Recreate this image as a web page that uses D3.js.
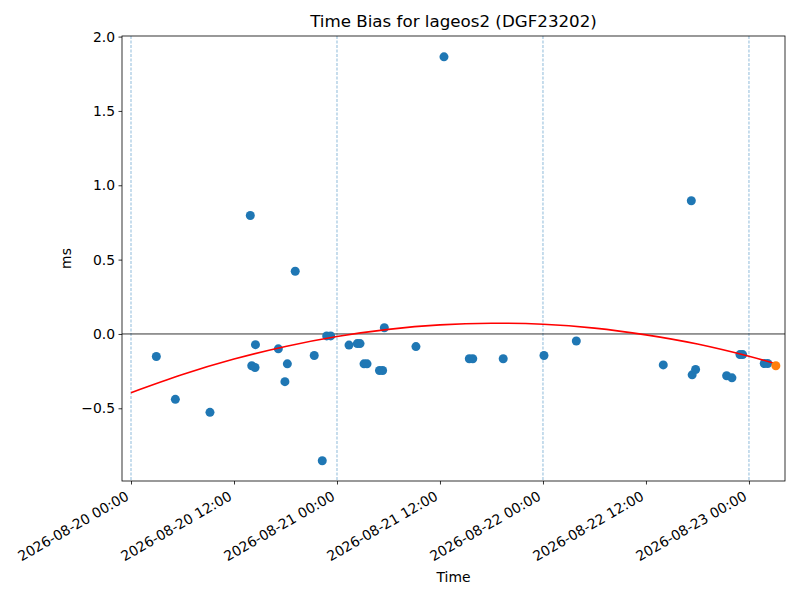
<!DOCTYPE html>
<html>
<head>
<meta charset="utf-8">
<script src="https://cdn.jsdelivr.net/npm/d3@7"></script>
<style>
    body { margin: 0; background: #fff; }
    text { font-family: "DejaVu Sans", sans-serif; fill: #000; }
</style>
</head>
<body>
<div id="chart"></div>
<script>

// measured time bias points (ms)
const obsTimes = [
    "2026-08-20 02:57", "2026-08-20 05:10", "2026-08-20 09:12", "2026-08-20 13:54",
    "2026-08-20 14:04", "2026-08-20 14:27", "2026-08-20 14:30", "2026-08-20 17:10",
    "2026-08-20 17:56", "2026-08-20 18:13", "2026-08-20 19:08", "2026-08-20 21:21",
    "2026-08-20 22:17", "2026-08-20 22:48", "2026-08-20 23:16", "2026-08-21 01:24",
    "2026-08-21 02:22", "2026-08-21 02:41", "2026-08-21 03:09", "2026-08-21 03:30",
    "2026-08-21 04:57", "2026-08-21 05:19", "2026-08-21 05:31", "2026-08-21 09:12",
    "2026-08-21 12:28", "2026-08-21 15:25", "2026-08-21 15:49", "2026-08-21 19:22",
    "2026-08-22 00:07", "2026-08-22 03:53", "2026-08-22 14:01", "2026-08-22 17:17",
    "2026-08-22 17:23", "2026-08-22 17:47", "2026-08-22 21:24", "2026-08-22 22:01",
    "2026-08-22 22:57", "2026-08-22 23:16", "2026-08-23 01:47", "2026-08-23 02:11"
];
const obsBias = [
    -0.152, -0.440, -0.527, 0.797,
    -0.214, -0.226, -0.072, -0.100,
    -0.321, -0.201, 0.422, -0.145,
    -0.853, -0.013, -0.013, -0.075,
    -0.065, -0.065, -0.201, -0.201,
    -0.246, -0.246, 0.042, -0.085,
    1.864, -0.167, -0.167, -0.167,
    -0.145, -0.047, -0.208, 0.896,
    -0.275, -0.239, -0.281, -0.295,
    -0.139, -0.139, -0.199, -0.199
];

// latest point (orange)
const lastTime = "2026-08-23 03:08";
const lastBias = -0.214;

// fitted trend
const fitTimes = [
    "2026-08-20 00:00", "2026-08-20 06:00", "2026-08-20 12:00", "2026-08-20 18:00",
    "2026-08-21 00:00", "2026-08-21 06:00", "2026-08-21 12:00", "2026-08-21 18:00",
    "2026-08-22 00:00", "2026-08-22 06:00", "2026-08-22 12:00", "2026-08-22 18:00",
    "2026-08-23 00:00", "2026-08-23 03:08"
];
const fitBias = [
    -0.395, -0.273, -0.169, -0.084,
    -0.017, 0.031, 0.061, 0.072,
    0.065, 0.039, -0.006, -0.068,
    -0.150, -0.200
];

const dayLines = ["2026-08-20 00:00", "2026-08-21 00:00", "2026-08-22 00:00", "2026-08-23 00:00"];
const yTicks = [-0.5, 0.0, 0.5, 1.0, 1.5, 2.0];

const parseTime = d3.timeParse("%Y-%m-%d %H:%M");

let margin = {top: 36, right: 15, bottom: 119, left: 122};
let width = 800 - margin.left - margin.right;
let height = 600 - margin.top - margin.bottom;

let svg = d3.select("#chart").append("svg")
    .attr("width", 800)
    .attr("height", 600);

let g = svg.append("g")
    .attr("transform", `translate(${margin.left}, ${margin.top})`);

let x = d3.scaleTime()
    .domain([parseTime("2026-08-19 22:57"), parseTime("2026-08-23 04:12")])
    .range([0, width]);

let y = d3.scaleLinear()
    .domain([-0.989, 2.004])
    .range([height, 0]);

// day boundary lines
g.selectAll(".day-line")
    .data(dayLines)
    .enter().append("line")
    .attr("class", "day-line")
    .attr("x1", d => x(parseTime(d)))
    .attr("x2", d => x(parseTime(d)))
    .attr("y1", 0)
    .attr("y2", height)
    .attr("stroke", "#1f77b4")
    .attr("stroke-width", 0.5)
    .attr("stroke-dasharray", "3,1.5");

// zero line
g.append("line")
    .attr("x1", 0)
    .attr("x2", width)
    .attr("y1", y(0))
    .attr("y2", y(0))
    .attr("stroke", "#000")
    .attr("stroke-width", 0.8);

// observations
let obs = obsTimes.map((t, i) => ({t: parseTime(t), v: obsBias[i]}));
g.selectAll(".pt")
    .data(obs)
    .enter().append("circle")
    .attr("class", "pt")
    .attr("cx", d => x(d.t))
    .attr("cy", d => y(d.v))
    .attr("r", 4.5)
    .attr("fill", "#1f77b4");

// fit curve
let fit = fitTimes.map((t, i) => ({t: parseTime(t), v: fitBias[i]}));
g.append("path")
    .datum(fit)
    .attr("fill", "none")
    .attr("stroke", "#ff0000")
    .attr("stroke-width", 1.6)
    .attr("d", d3.line().x(d => x(d.t)).y(d => y(d.v)).curve(d3.curveNatural));

// latest point
g.append("circle")
    .attr("cx", x(parseTime(lastTime)))
    .attr("cy", y(lastBias))
    .attr("r", 4.5)
    .attr("fill", "#ff7f0e");

// axes
let fmt = d3.timeFormat("%Y-%m-%d %H:%M");
let xAxis = g.append("g")
    .attr("transform", `translate(0, ${height})`)
    .call(d3.axisBottom(x)
        .tickValues(d3.range(0, 7).map(i => d3.timeHour.offset(parseTime("2026-08-20 00:00"), i * 12)))
        .tickFormat(fmt)
        .tickSize(3.5)
        .tickPadding(3));
xAxis.select(".domain").remove();
xAxis.selectAll("line").attr("stroke", "#000").attr("stroke-width", 0.8);
xAxis.selectAll("text")
    .attr("font-size", "13.9px")
    .attr("text-anchor", "end")
    .attr("y", 0)
    .attr("dy", 0)
    .attr("transform", "translate(-1.6, 18) rotate(-30)");

let yAxis = g.append("g")
    .call(d3.axisLeft(y)
        .tickValues(yTicks)
        .tickFormat(d3.format(".1f"))
        .tickSize(3.5)
        .tickPadding(3.5));
yAxis.select(".domain").remove();
yAxis.selectAll("line").attr("stroke", "#000").attr("stroke-width", 0.8);
yAxis.selectAll("text").attr("font-size", "13.9px");

// frame
g.append("rect")
    .attr("width", width)
    .attr("height", height)
    .attr("fill", "none")
    .attr("stroke", "#000")
    .attr("stroke-width", 0.8);

// labels
svg.append("text")
    .attr("x", margin.left + width / 2)
    .attr("y", 27)
    .attr("text-anchor", "middle")
    .attr("font-size", "16.7px")
    .text("Time Bias for lageos2 (DGF23202)");

svg.append("text")
    .attr("x", margin.left + width / 2)
    .attr("y", 582)
    .attr("text-anchor", "middle")
    .attr("font-size", "13.9px")
    .text("Time");

svg.append("text")
    .attr("transform", `translate(71, ${margin.top + height / 2}) rotate(-90)`)
    .attr("text-anchor", "middle")
    .attr("font-size", "13.9px")
    .text("ms");

</script>
</body>
</html>
